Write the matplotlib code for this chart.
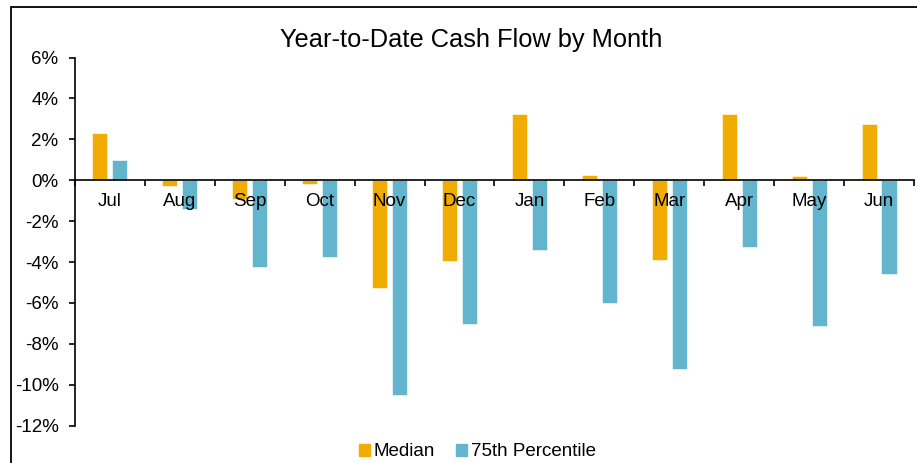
import matplotlib
matplotlib.use('Agg')
import matplotlib.pyplot as plt
import matplotlib.ticker as mt
from matplotlib.patches import Rectangle, Patch
import numpy as np

plt.rcParams['font.family'] = ['Liberation Sans', 'DejaVu Sans']

# Values (percent)
months = ["Jul", "Aug", "Sep", "Oct", "Nov", "Dec",
          "Jan", "Feb", "Mar", "Apr", "May", "Jun"]
median = [2.30, -0.28, -0.93, -0.16, -5.28, -3.96,
          3.26, 0.28, -3.88, 3.26, 0.23, 2.75]
pct75 = [0.98, -1.43, -4.24, -3.76, -10.48, -7.01,
         -3.42, -6.01, -9.25, -3.27, -7.12, -4.59]

ORANGE = "#F0AC00"
BLUE = "#62B5CC"

fig = plt.figure(figsize=(9.17, 4.63), dpi=100)
ax = fig.add_axes([0.0818, 0.0806, 0.9149, 0.7952])

x = np.arange(len(months))
w = 0.215
ax.bar(x - 0.143, median, w, color=ORANGE, edgecolor="white", linewidth=0.4)
ax.bar(x + 0.143, pct75, w, color=BLUE, edgecolor="white", linewidth=0.4)

ax.set_xlim(-0.5, len(months) - 0.5)
ax.set_ylim(-12, 6)
ax.yaxis.set_major_locator(mt.MultipleLocator(2))
ax.yaxis.set_major_formatter(mt.FuncFormatter(lambda v, p: f"{v:.0f}%"))

# category axis sits on the zero line, labels just under it
ax.spines['bottom'].set_position(('data', 0))
ax.spines['top'].set_visible(False)
ax.spines['right'].set_visible(False)
for s in ('left', 'bottom'):
    ax.spines[s].set_linewidth(1.2)
ax.set_xticks(np.arange(-0.5, len(months), 1.0))
ax.set_xticklabels([])
ax.set_xticks(x, minor=True)
ax.set_xticklabels(months, minor=True)
ax.tick_params(axis='x', which='major', direction='out', length=4, width=1.2)
ax.tick_params(axis='x', which='minor', length=0, pad=9, labelsize=13.5)
ax.tick_params(axis='y', direction='out', length=4.3, width=1.2, labelsize=13.5, pad=7.5)

fig.text(0.514, 0.899, "Year-to-Date Cash Flow by Month", ha='center',
         va='baseline', fontsize=18.3)

handles = [Patch(color=ORANGE, label="Median"), Patch(color=BLUE, label="75th Percentile")]
fig.legend(handles=handles, loc='center', bbox_to_anchor=(0.5207, 0.024), ncol=2,
           frameon=False, fontsize=13.5, handlelength=0.6, handleheight=0.6,
           handletextpad=0.2, columnspacing=1.1, borderaxespad=0)

# outer chart border (only top and left visible in the crop)
fig.add_artist(Rectangle((11 / 917, -0.2), 1.2, 1.2 - 7 / 463,
                         transform=fig.transFigure, fill=False,
                         edgecolor="black", linewidth=1.3))

fig.savefig("out.png", dpi=100)
